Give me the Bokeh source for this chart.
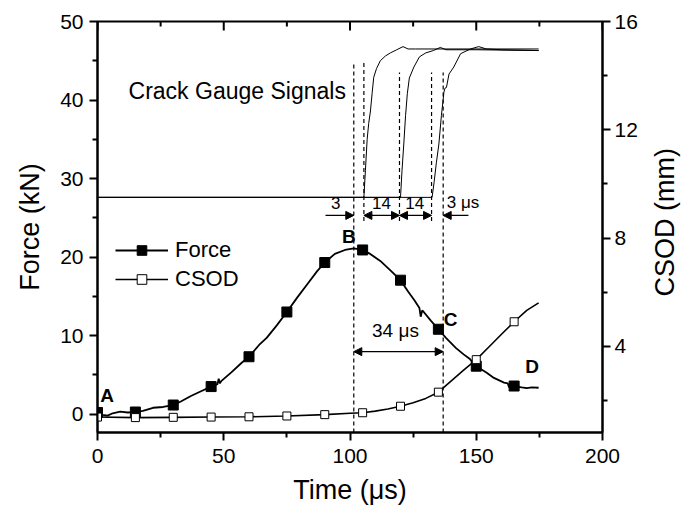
import math
from bokeh.plotting import figure
from bokeh.layouts import row
from bokeh.models import (Range1d, LinearAxis, FixedTicker, Label, Arrow,
                          NormalHead, Legend, LegendItem)
from bokeh.embed import file_html
from bokeh.resources import INLINE

FONT = "Liberation Sans"

# ---------------- data ----------------
time_force = [0, 2, 4, 6, 9, 12, 15, 18, 22, 26, 30, 33, 37, 41, 45, 47.5, 48, 48.5,
              49, 53, 57, 60, 64, 67, 71, 75, 79, 83, 87, 90, 94, 98, 101.5, 105,
              108, 112, 116, 120, 123, 125.5, 127.5, 128, 128.6, 129.2, 132, 135,
              138, 142, 145, 147.5, 150, 154, 157, 161, 162.5, 163, 163.5, 165,
              168, 170, 172, 174.7]
force_kN = [0.2, -0.1, -0.2, 0.1, 0.3, 0.2, 0.26, 0.4, 0.8, 0.9, 1.15, 1.6, 2.3, 2.9,
            3.5, 3.8, 4.5, 3.9, 4.2, 5.3, 6.5, 7.3, 8.8, 9.7, 11.3, 13.0, 14.8, 16.5,
            18.2, 19.3, 20.4, 20.9, 21.1, 20.9, 20.4, 19.5, 18.3, 17.05, 15.6, 14.5,
            13.5, 12.4, 13.2, 13.0, 11.9, 10.8, 9.7, 8.4, 7.6, 7.0, 6.1, 5.3, 4.6,
            4.0, 3.9, 3.4, 3.9, 3.57, 3.4, 3.3, 3.4, 3.35]

time_csod = [0, 15, 30, 45, 60, 75, 90, 100, 105, 110, 115, 120, 125, 130, 135, 140,
             145, 150, 155, 160, 165, 170, 174.7]
csod_mm = [1.39, 1.37, 1.38, 1.39, 1.40, 1.43, 1.48, 1.53, 1.55, 1.61, 1.69, 1.79,
           1.92, 2.08, 2.31, 2.72, 3.12, 3.51, 3.98, 4.45, 4.91, 5.33, 5.61]

marker_times = [0, 15, 30, 45, 60, 75, 90, 105, 120, 135, 150, 165]

# crack gauge signals (drawn on the force scale)
gauge1_t = [0, 105.5, 106.1, 106.8, 107.4, 108.1, 108.8, 109.4, 110.5, 112, 114, 116,
            118.5, 121, 123, 126, 140, 174.7]
gauge1_v = [27.6, 27.6, 31, 35, 37, 38.6, 41, 42.9, 44.0, 45.0, 45.6, 46.0, 46.4, 46.8,
            46.5, 46.5, 46.5, 46.5]
gauge2_t = [0, 120, 120.6, 121.3, 122, 122.7, 123.5, 125.3, 127.5, 130, 133, 135.8,
            138, 142, 150, 174.7]
gauge2_v = [27.6, 27.6, 31, 34.4, 38, 40.8, 42.8, 44.2, 45.5, 46.0, 46.3, 46.7, 46.4,
            46.4, 46.4, 46.3]
gauge3_t = [0, 132.5, 133.3, 134.2, 135.2, 136.2, 137.2, 137.6, 138.2, 139.2, 141.1,
            143.8, 147.7, 151, 154, 160, 174.7]
gauge3_v = [27.6, 27.6, 29.5, 32, 34.4, 38, 41, 41.5, 41.6, 43.3, 44.2, 45.9, 46.5,
            46.8, 46.5, 46.4, 46.3]

# vertical dashed guide lines (time, top, bottom in kN)
guide_t = [101.5, 105.5, 119.6, 132.3, 136.9]
guide_top = [44.8, 44.8, 43.5, 43.5, 43.5]
guide_bottom = [-2.35, 24.6, 24.6, 24.6, -2.35]

x_ticks = [0, 50, 100, 150, 200]
x_minor = [25, 75, 125, 175]
f_ticks = [0, 10, 20, 30, 40, 50]
f_minor = [5, 15, 25, 35, 45]
c_ticks = [4, 8, 12, 16]
c_minor = [2, 6, 10, 14]

F_MIN, F_MAX = -2.35, 50
C_MIN, C_MAX = 0.82, 16

# ---------------- main figure ----------------
p = figure(width=650, height=514, output_backend="svg", toolbar_location=None,
           x_range=Range1d(0, 200), y_range=Range1d(F_MIN, F_MAX),
           min_border_left=97, min_border_right=48, min_border_top=21,
           min_border_bottom=82)
p.extra_y_ranges = {"csod": Range1d(C_MIN, C_MAX)}
p.grid.visible = False
p.outline_line_color = "black"
p.outline_line_width = 2
p.background_fill_color = "white"
p.border_fill_color = "white"


def style_axis(ax, size="21px"):
    ax.axis_line_width = 2
    ax.major_tick_line_width = 2
    ax.minor_tick_line_width = 2
    ax.major_tick_out = 8
    ax.major_tick_in = 0
    ax.minor_tick_out = 5
    ax.minor_tick_in = 0
    ax.major_label_text_font = FONT
    ax.major_label_text_font_size = size
    ax.major_label_text_color = "black"
    ax.axis_label_text_font = FONT
    ax.axis_label_text_font_size = "27px"
    ax.axis_label_text_font_style = "normal"
    ax.axis_label_text_color = "black"
    ax.axis_line_color = "black"
    ax.major_tick_line_color = "black"
    ax.minor_tick_line_color = "black"


xa = p.xaxis[0]
xa.ticker = FixedTicker(ticks=x_ticks, minor_ticks=x_minor)
xa.axis_label = "Time (μs)"
style_axis(xa)
xa.major_label_standoff = 8
xa.axis_label_standoff = 9

ya = p.yaxis[0]
ya.ticker = FixedTicker(ticks=f_ticks, minor_ticks=f_minor)
ya.axis_label = "Force (kN)"
style_axis(ya)
ya.major_label_standoff = 6
ya.axis_label_standoff = 12

ra = LinearAxis(y_range_name="csod", ticker=FixedTicker(ticks=c_ticks, minor_ticks=c_minor))
style_axis(ra)
ra.major_label_standoff = 4
p.add_layout(ra, "right")

# top mirror ticks (pointing inward)
p.segment(x0=x_ticks, y0=[F_MAX] * len(x_ticks), x1=x_ticks,
          y1=[F_MAX - 9 / 7.84] * len(x_ticks), line_color="black", line_width=2)
p.segment(x0=x_minor, y0=[F_MAX] * len(x_minor), x1=x_minor,
          y1=[F_MAX - 5 / 7.84] * len(x_minor), line_color="black", line_width=2)

# crack gauge signal traces
for gt, gv in ((gauge1_t, gauge1_v), (gauge2_t, gauge2_v), (gauge3_t, gauge3_v)):
    p.line(gt, gv, line_color="black", line_width=1)

# dashed guide lines
p.segment(x0=guide_t, y0=guide_bottom, x1=guide_t, y1=guide_top,
          line_color="black", line_width=1.2, line_dash="4 3")

# force curve + markers
f_line = p.line(time_force, force_kN, line_color="black", line_width=1.8)
f_mk_x = [t for t in time_force if t in marker_times]
f_mk_y = [f for t, f in zip(time_force, force_kN) if t in marker_times]
f_mk = p.scatter(f_mk_x, f_mk_y, marker="square", size=10, fill_color="black",
                 line_color="black")

# CSOD curve + markers
c_line = p.line(time_csod, csod_mm, y_range_name="csod", line_color="black", line_width=1.6)
c_mk_x = [t for t in time_csod if t in marker_times]
c_mk_y = [c for t, c in zip(time_csod, csod_mm) if t in marker_times]
c_mk = p.scatter(c_mk_x, c_mk_y, y_range_name="csod", marker="square", size=8,
                 fill_color="white", line_color="black", line_width=1)


# arrows
def head():
    return NormalHead(size=8, fill_color="black", line_color="black", line_width=1)


arrow_y = 25.3
p.add_layout(Arrow(end=head(), x_start=90.3, y_start=arrow_y, x_end=guide_t[0], y_end=arrow_y,
                   line_width=1.3))
p.add_layout(Arrow(start=head(), end=head(), x_start=guide_t[1], y_start=arrow_y,
                   x_end=guide_t[2], y_end=arrow_y, line_width=1.3))
p.add_layout(Arrow(start=head(), end=head(), x_start=guide_t[2], y_start=arrow_y,
                   x_end=guide_t[3], y_end=arrow_y, line_width=1.3))
p.add_layout(Arrow(end=head(), x_start=146.9, y_start=arrow_y, x_end=guide_t[4], y_end=arrow_y,
                   line_width=1.3))
p.add_layout(Arrow(start=head(), end=head(), x_start=guide_t[0], y_start=7.95,
                   x_end=guide_t[4], y_end=7.95, line_width=1.3))


# texts
def label(fig, x, y, text, size, bold=False, align="center", angle=0.0):
    fig.add_layout(Label(x=x, y=y, text=text, text_font=FONT, text_font_size=size,
                         text_font_style="bold" if bold else "normal", angle=angle,
                         text_align=align, text_baseline="middle", text_color="black"))


label(p, 12.3, 41.2, "Crack Gauge Signals", "23px", align="left")
label(p, 94.3, 26.9, "3", "17px")
label(p, 112.5, 26.9, "14", "17px")
label(p, 125.6, 26.9, "14", "17px")
label(p, 138.3, 26.9, "3 μs", "17px", align="left")
label(p, 118.0, 10.6, "34 μs", "19px")
label(p, 3.8, 2.4, "A", "19px", bold=True)
label(p, 99.5, 22.6, "B", "19px", bold=True)
label(p, 139.8, 12.1, "C", "19px", bold=True)
label(p, 172.1, 6.0, "D", "19px", bold=True)

legend = Legend(items=[LegendItem(label="Force", renderers=[f_line, f_mk]),
                       LegendItem(label="CSOD", renderers=[c_line, c_mk])],
                location=(18, 140), glyph_width=53, glyph_height=24, label_height=24,
                spacing=3, padding=0, margin=0, border_line_color=None,
                background_fill_alpha=0, label_text_font=FONT,
                label_text_color="black",
                label_text_font_size="22px", label_standoff=7)
p.add_layout(legend)

# ---------------- narrow strip carrying the right axis title ----------------
side = figure(width=31, height=514, output_backend="svg", toolbar_location=None,
              x_range=Range1d(0, 31), y_range=Range1d(0, 514),
              x_axis_location=None, y_axis_location=None, min_border=0)
side.grid.visible = False
side.outline_line_color = None
side.background_fill_color = "white"
side.border_fill_color = "white"
label(side, 14, 263, "CSOD (mm)", "27px", angle=math.pi / 2)

layout = row(p, side, spacing=0)
open("out.html", "w").write(file_html(layout, INLINE))
